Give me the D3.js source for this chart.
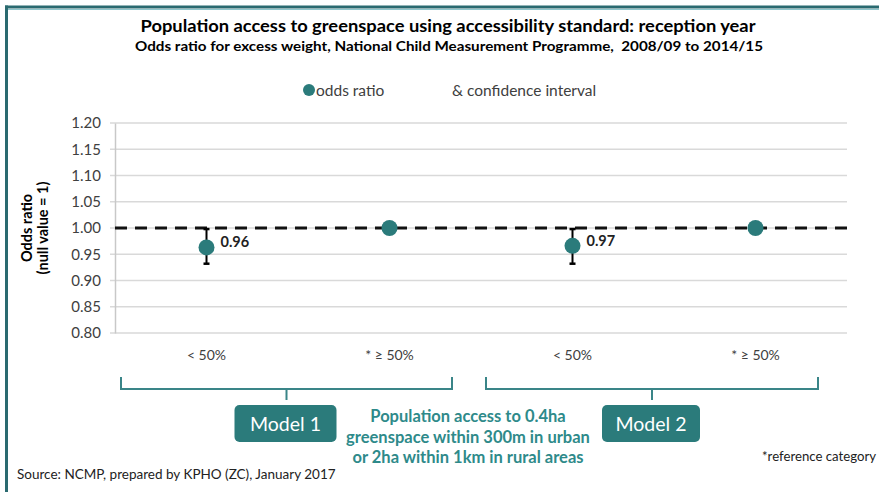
<!DOCTYPE html>
<html>
<head>
<meta charset="utf-8">
<script src="https://cdn.jsdelivr.net/npm/d3@7"></script>
<style>
  html, body { margin: 0; padding: 0; background: #fff; }
  svg { display: block; font-family: Lato, "Open Sans", sans-serif; }
</style>
</head>
<body>
<svg id="chart" width="879" height="492"></svg>
<script>
// Categories along the x axis (two models, two access groups each)
const categories = ["m1_lt50", "m1_ge50", "m2_lt50", "m2_ge50"];
const categoryLabels = ["< 50%", "* \u2265 50%", "< 50%", "* \u2265 50%"];
// Odds ratios and confidence interval bounds
const oddsRatio = [0.963, 1.00, 0.966, 1.00];
const ciLower = [0.932, null, 0.932, null];
const ciUpper = [0.998, null, 0.998, null];
const showLabel = [true, false, true, false];
// Y axis ticks
const yTicks = [0.80, 0.85, 0.90, 0.95, 1.00, 1.05, 1.10, 1.15, 1.20];
const nullValue = 1.00;
// Model groupings beneath the axis
const models = ["Model 1", "Model 2"];
const modelGroups = [["m1_lt50", "m1_ge50"], ["m2_lt50", "m2_ge50"]];

const teal = "#2b7b7b";
const svg = d3.select("#chart");

// Frame
svg.append("line").attr("x1", 5).attr("x2", 879).attr("y1", 7).attr("y2", 7)
  .attr("stroke", "#2a6a70").attr("stroke-width", 3);
svg.append("line").attr("x1", 5).attr("x2", 879).attr("y1", 9.5).attr("y2", 9.5)
  .attr("stroke", "#8fc6cc").attr("stroke-width", 1);
svg.append("line").attr("x1", 6.5).attr("x2", 6.5).attr("y1", 5.5).attr("y2", 492)
  .attr("stroke", "#2a6a70").attr("stroke-width", 3);

// Titles
svg.append("text").attr("x", 448).attr("y", 32).attr("text-anchor", "middle")
  .attr("font-weight", "bold").attr("font-size", 17.5).attr("fill", "#000")
  .attr("textLength", 615).attr("lengthAdjust", "spacingAndGlyphs")
  .text("Population access to greenspace using accessibility standard: reception year");
svg.append("text").attr("x", 449).attr("y", 51).attr("text-anchor", "middle")
  .attr("font-weight", "bold").attr("font-size", 13.5).attr("fill", "#000")
  .attr("xml:space", "preserve")
  .attr("textLength", 628).attr("lengthAdjust", "spacingAndGlyphs")
  .text("Odds ratio for excess weight, National Child Measurement Programme,  2008/09 to 2014/15");

// Legend
svg.append("circle").attr("cx", 309).attr("cy", 90).attr("r", 6).attr("fill", teal);
svg.append("text").attr("x", 316).attr("y", 95.5).attr("font-size", 15.5).attr("fill", "#404040")
  .text("odds ratio");
svg.append("text").attr("x", 452).attr("y", 95.5).attr("font-size", 15.5).attr("fill", "#404040")
  .text("& confidence interval");

// Scales
const x = d3.scaleBand().domain(categories).range([115, 847]);
const y = d3.scaleLinear().domain([0.80, 1.20]).range([333, 123]);

// Gridlines
svg.append("g").selectAll("line").data(yTicks).join("line")
  .attr("x1", 110).attr("x2", 847)
  .attr("y1", d => y(d)).attr("y2", d => y(d))
  .attr("stroke", "#d9d9d9").attr("stroke-width", 1.5);

// Y axis
const yAxis = svg.append("g").attr("transform", "translate(115,0)")
  .call(d3.axisLeft(y).tickValues(yTicks).tickFormat(d3.format(".2f")).tickSize(0).tickPadding(14));
yAxis.select(".domain").attr("stroke", "#c8c8c8").attr("stroke-width", 1.5);
yAxis.selectAll("text").attr("font-size", 15).attr("fill", "#404040")
  .attr("font-family", "Lato, 'Open Sans', sans-serif");

// Y axis title
const yt = svg.append("text").attr("transform", "translate(32,228) rotate(-90)")
  .attr("text-anchor", "middle").attr("font-weight", "bold").attr("font-size", 14.5).attr("fill", "#000");
yt.append("tspan").attr("x", 0).attr("dy", 0).text("Odds ratio");
yt.append("tspan").attr("x", 0).attr("dy", 16).text("(null value = 1)");

// Null value reference line
svg.append("line").attr("x1", 115).attr("x2", 847)
  .attr("y1", y(nullValue)).attr("y2", y(nullValue))
  .attr("stroke", "#111").attr("stroke-width", 3).attr("stroke-dasharray", "12,8");

// Category labels
svg.append("g").selectAll("text").data(categories).join("text")
  .attr("x", d => x(d) + x.bandwidth() / 2).attr("y", 360)
  .attr("text-anchor", "middle").attr("font-size", 14).attr("fill", "#404040")
  .text((d, i) => categoryLabels[i]);

// Error bars
const ciIdx = categories.map((c, i) => i).filter(i => ciLower[i] !== null);
const eb = svg.append("g");
ciIdx.forEach(i => {
  const cx = x(categories[i]) + x.bandwidth() / 2;
  eb.append("line").attr("x1", cx).attr("x2", cx)
    .attr("y1", y(ciUpper[i])).attr("y2", y(ciLower[i]))
    .attr("stroke", "#000").attr("stroke-width", 2);
  [ciUpper[i], ciLower[i]].forEach(v => {
    eb.append("line").attr("x1", cx - 3).attr("x2", cx + 3)
      .attr("y1", y(v)).attr("y2", y(v))
      .attr("stroke", "#000").attr("stroke-width", 2.5);
  });
});

// Points
svg.append("g").selectAll("circle").data(categories).join("circle")
  .attr("cx", d => x(d) + x.bandwidth() / 2)
  .attr("cy", (d, i) => y(oddsRatio[i]))
  .attr("r", 8).attr("fill", teal);

// Value labels
svg.append("g").selectAll("text").data(categories.filter((d, i) => showLabel[i])).join("text")
  .attr("x", d => x(d) + x.bandwidth() / 2 + 14)
  .attr("y", d => y(oddsRatio[categories.indexOf(d)]))
  .attr("font-size", 14.5).attr("font-weight", "bold").attr("fill", "#222")
  .text(d => d3.format(".2f")(oddsRatio[categories.indexOf(d)]));

// Model brackets and labels
modelGroups.forEach((g, k) => {
  const left = x(g[0]) + (k === 0 ? 6 : 5);
  const right = x(g[1]) + x.bandwidth() - 29;
  const mid = (left + right) / 2;
  svg.append("path")
    .attr("d", `M${left},377 V389 H${right} V377 M${mid},389 V400`)
    .attr("fill", "none").attr("stroke", "#3a8588").attr("stroke-width", 2);
  const bw = k === 0 ? 102 : 98;
  svg.append("rect").attr("x", mid - bw / 2 - 1).attr("y", 405).attr("width", bw).attr("height", 37)
    .attr("rx", 5).attr("fill", teal);
  svg.append("text").attr("x", mid - 1).attr("y", 430.5).attr("text-anchor", "middle")
    .attr("font-size", 19.5).attr("fill", "#fff").text(models[k]);
});

// Explanatory text
const expl = ["Population access to 0.4ha", "greenspace within 300m in urban", "or 2ha within 1km in rural areas"];
svg.append("g").selectAll("text").data(expl).join("text")
  .attr("x", 468).attr("y", (d, i) => 422 + i * 20.5)
  .attr("text-anchor", "middle").attr("font-size", 16.5).attr("font-weight", "bold")
  .attr("fill", "#2e8a8a").text(d => d);

svg.append("text").attr("x", 762).attr("y", 461).attr("font-size", 13.2).attr("fill", "#222")
  .text("*reference category");
svg.append("text").attr("x", 17).attr("y", 479).attr("font-size", 13.5).attr("fill", "#222")
  .text("Source: NCMP, prepared by KPHO (ZC), January 2017");
</script>
</body>
</html>
